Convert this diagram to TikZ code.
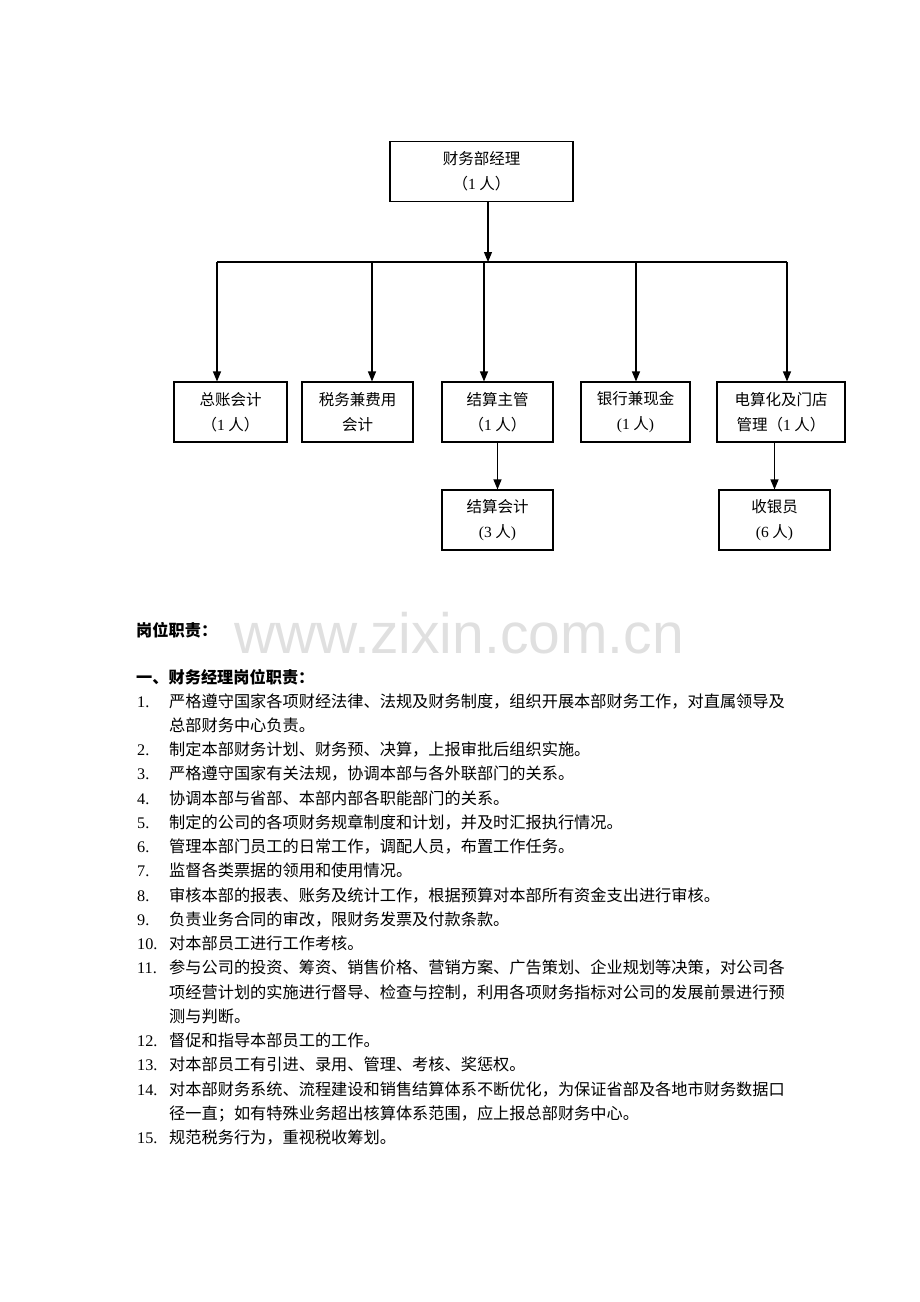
\documentclass[tikz,border=0pt]{standalone}
\usepackage{fontspec}
\setmainfont{Liberation Serif}
\newfontfamily\cjk{Noto Sans CJK SC}
\newfontfamily\wmfont{Liberation Sans}
\usetikzlibrary{arrows.meta,positioning}
\newcommand{\lat}[1]{{\rmfamily #1}}
\tikzset{
  unit/.style={draw, line width=1.1pt, align=center, inner sep=0pt,
    minimum height=60pt, font=\cjk\fontsize{15.5}{25}\selectfont},
  feed/.style={line width=1.1pt, -{Triangle[length=10pt,width=8pt]}},
  duty/.style={anchor=base west, inner sep=0pt,
    font=\cjk\fontsize{16.2}{24.25}\selectfont},
}

\begin{document}
\begin{tikzpicture}[x=1pt,y=-1pt]
      \useasboundingbox (0,0) rectangle (920,1302);
      \begin{scope}
        \node[unit, minimum width=183pt] (mgr) at (481.5,171.5) {财务部经理\\（\lat{1} 人）};
        \node[unit, minimum width=113pt] (gl) at (230.5,412) {总账会计\\（\lat{1} 人）};
        \node[unit, minimum width=111pt] (tax) at (357.5,412) {税务兼费用\\会计};
        \node[unit, minimum width=111pt] (settle) at (497.5,412) {结算主管\\（\lat{1} 人）};
        \node[unit, minimum width=109pt] (bank) at (635.5,412) {银行兼现金\\\lat{(1} 人\lat{)}};
        \node[unit, minimum width=128pt] (edp) at (781,412) {电算化及门店\\管理（\lat{1} 人）};
        \node[unit, minimum width=111pt] (clerk) at (497.5,520) {结算会计\\\lat{(3} 人\lat{)}};
        \node[unit, minimum width=111pt] (cashier) at (774.5,520) {收银员\\\lat{(6} 人\lat{)}};
      \end{scope}
      \begin{scope}
        \coordinate (hub) at (488,262);
        \foreach \n/\x in {gl/217, tax/372, settle/484, bank/636, edp/787}
          \coordinate (bus-\n) at (\x,262);
        \draw[feed] (mgr.south -| hub) -- (hub); % manager down
        \draw[line width=1.1pt] (bus-gl) -- (bus-edp); % bus
        \foreach \n in {gl,tax,settle,bank,edp}
          \draw[feed] (bus-\n) -- (bus-\n |- \n.north);
        \draw[feed] (settle.south) -- (clerk.north);
        \draw[feed] (cashier.north |- edp.south) -- (cashier.north);
      \end{scope}
      \begin{scope}
        \node[font=\wmfont\fontsize{57}{57}\selectfont, text=black!12] (mark) at (459,633) {www.zixin.com.cn};
        \node[duty, font=\cjk\bfseries\fontsize{16.2}{24.25}\selectfont] (title) at (136,636) {岗位职责：};
        \node[duty, font=\cjk\bfseries\fontsize{16.2}{24.25}\selectfont] (head) at (136,683) {一、财务经理岗位职责：};
      \end{scope}
      \begin{scope}
        \foreach \n/\l/\t in {
          1/0/{严格遵守国家各项财经法律、法规及财务制度，组织开展本部财务工作，对直属领导及\\总部财务中心负责。},
          2/2/{制定本部财务计划、财务预、决算，上报审批后组织实施。},
          3/3/{严格遵守国家有关法规，协调本部与各外联部门的关系。},
          4/4/{协调本部与省部、本部内部各职能部门的关系。},
          5/5/{制定的公司的各项财务规章制度和计划，并及时汇报执行情况。},
          6/6/{管理本部门员工的日常工作，调配人员，布置工作任务。},
          7/7/{监督各类票据的领用和使用情况。},
          8/8/{审核本部的报表、账务及统计工作，根据预算对本部所有资金支出进行审核。},
          9/9/{负责业务合同的审改，限财务发票及付款条款。},
          10/10/{对本部员工进行工作考核。},
          11/11/{参与公司的投资、筹资、销售价格、营销方案、广告策划、企业规划等决策，对公司各\\项经营计划的实施进行督导、检查与控制，利用各项财务指标对公司的发展前景进行预\\测与判断。},
          12/14/{督促和指导本部员工的工作。},
          13/15/{对本部员工有引进、录用、管理、考核、奖惩权。},
          14/16/{对本部财务系统、流程建设和销售结算体系不断优化，为保证省部及各地市财务数据口\\径一直；如有特殊业务超出核算体系范围，应上报总部财务中心。},
          15/18/{规范税务行为，重视税收筹划。}} {
          \node[duty, font=\fontsize{16.2}{24.25}\selectfont] (no\n) at (137,{707+24.25*\l}) {\n.};
          \node[duty, text width=640pt, align=left] (item\n) at (169,{707+24.25*\l}) {\t};
        }
      \end{scope}
    \end{tikzpicture}
\end{document}
